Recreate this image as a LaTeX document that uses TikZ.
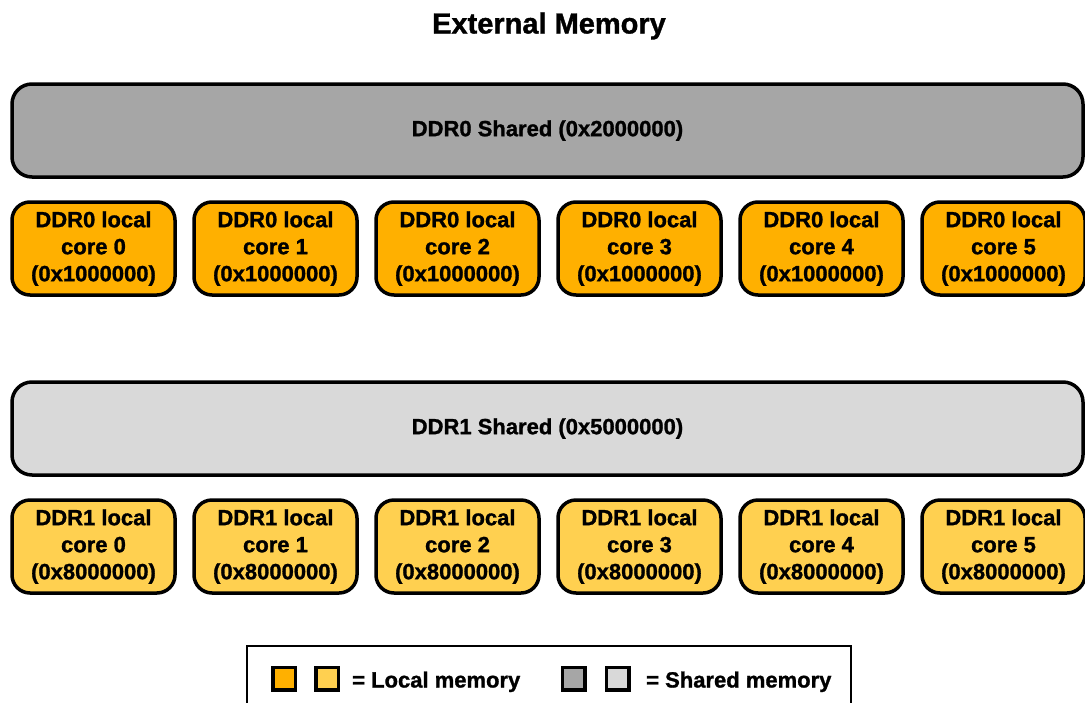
\documentclass[tikz,border=0pt]{standalone}
\usepackage{fontspec}
\setmainfont{Liberation Sans}
\newfontfamily\boxfont{Liberation Sans}[FakeBold=1.2]
\definecolor{localdark}{HTML}{FFB000}
\definecolor{locallight}{HTML}{FFD050}
\definecolor{shareddark}{HTML}{A6A6A6}
\definecolor{sharedlight}{HTML}{D9D9D9}
\tikzset{
  membox/.style={draw=black, line width=3.5pt, rounded corners=18pt, align=center,
    inner sep=0pt, font=\boxfont\bfseries\fontsize{22}{27}\selectfont},
  sharedbox/.style={membox, rounded corners=20pt, minimum width=1071pt, minimum height=93pt},
  localbox/.style={membox, minimum width=163pt, minimum height=93pt},
  keybox/.style={draw=black, line width=3.5pt, minimum size=22.5pt, inner sep=0pt},
  keytext/.style={anchor=base west, inner sep=0pt, font=\boxfont\bfseries\fontsize{22}{22}\selectfont},
}

\begin{document}
\begin{tikzpicture}[x=1pt,y=-1pt]
\useasboundingbox (0,0) rectangle (1085,702);
\node[anchor=base, inner sep=0pt, font=\boxfont\bfseries\fontsize{29}{29}\selectfont] (title) at (549,33.5) {External Memory};

\node[sharedbox, fill=shareddark] (shared0) at (547.5,130.5) {DDR0 Shared (0x2000000)};
\node[sharedbox, fill=sharedlight] (shared1) at (547.5,428.5) {DDR1 Shared (0x5000000)};

\foreach \i in {0,...,5}{
  \node[localbox, fill=localdark] (local0-\i) at (93.5+182*\i,248.5) {DDR0 local\\core \i\\(0x1000000)};
  \node[localbox, fill=locallight] (local1-\i) at (93.5+182*\i,546.5) {DDR1 local\\core \i\\(0x8000000)};
}

% legend
\draw[line width=1.5pt] (247,710) -- (247,646) -- (851,646) -- (851,710);
\node[keybox, fill=localdark] (key-ld) at (284,678.5) {};
\node[keybox, fill=locallight] (key-ll) at (327,678.5) {};
\node[keytext] (key-local) at (352,687.5) {= Local memory};
\node[keybox, fill=shareddark] (key-sd) at (573.5,678.5) {};
\node[keybox, fill=sharedlight] (key-sl) at (617.5,678.5) {};
\node[keytext] (key-shared) at (646,687.5) {= Shared memory};
\end{tikzpicture}
\end{document}
